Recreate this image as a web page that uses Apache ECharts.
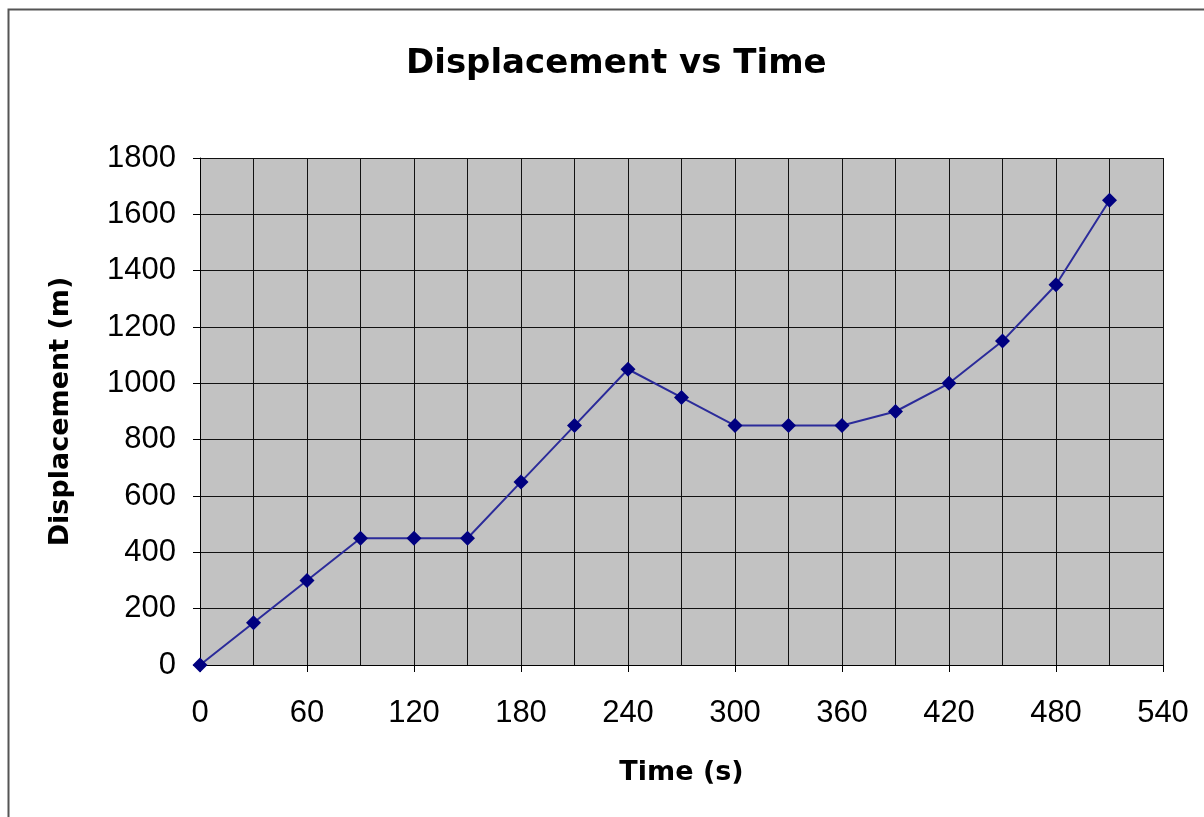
<!DOCTYPE html>
<html>
<head>
<meta charset="utf-8">
<script src="https://cdn.jsdelivr.net/npm/echarts@6/dist/echarts.min.js"></script>
<style>html,body{margin:0;padding:0;background:#fff}#c{width:1204px;height:817px}</style>
</head>
<body>
<div id="c"></div>
<script>
const times = [0, 30, 60, 90, 120, 150, 180, 210, 240, 270, 300, 330, 360, 390, 420, 450, 480, 510];
const displacement = [0, 150, 300, 450, 450, 450, 650, 850, 1050, 950, 850, 850, 850, 900, 1000, 1150, 1350, 1650];
const titleText = 'Displacement vs Time';
const xName = 'Time (s)';
const yName = 'Displacement (m)';

const chart = echarts.init(document.getElementById('c'), null, {renderer: 'canvas'});
const font = 'Liberation Sans, Arial, sans-serif';
const boldFont = 'DejaVu Sans, Verdana, sans-serif';
chart.setOption({
  backgroundColor: '#ffffff',
  animation: false,
  graphic: [{
    type: 'polyline', silent: true,
    shape: {points: [[8.5, 830], [8.5, 9.5], [1220, 9.5]]},
    style: {stroke: '#555', lineWidth: 2, fill: null}
  }],
  title: {
    text: titleText, left: 401, top: 42,
    textStyle: {fontFamily: boldFont, fontSize: 34, fontWeight: 'bold', color: '#000'}
  },
  grid: {left: 200, top: 158, right: 41, bottom: 152, backgroundColor: '#c2c2c2', show: true, borderWidth: 0},
  xAxis: {
    type: 'value', min: 0, max: 540, interval: 60,
    name: xName, nameLocation: 'middle', nameGap: 94,
    nameTextStyle: {fontFamily: boldFont, fontSize: 27, fontWeight: 'bold', color: '#000'},
    axisLine: {show: true, lineStyle: {color: '#000', width: 1}},
    axisTick: {show: true, length: 7, inside: false, lineStyle: {color: '#000'}},
    axisLabel: {fontFamily: font, fontSize: 31, color: '#000', margin: 33, formatter: v => String(v)},
    splitLine: {show: true, lineStyle: {color: '#111', width: 1}},
    minorTick: {show: false, splitNumber: 2},
    minorSplitLine: {show: true, lineStyle: {color: '#111', width: 1}}
  },
  yAxis: {
    type: 'value', min: 0, max: 1800, interval: 200,
    name: yName, nameLocation: 'middle', nameGap: 126, nameRotate: 90,
    nameTextStyle: {fontFamily: boldFont, fontSize: 27, fontWeight: 'bold', color: '#000'},
    axisLine: {show: true, lineStyle: {color: '#000', width: 1}},
    axisTick: {show: true, length: 7, inside: false, lineStyle: {color: '#000'}},
    axisLabel: {fontFamily: font, fontSize: 31, color: '#000', margin: 24, formatter: v => String(v)},
    splitLine: {show: true, lineStyle: {color: '#111', width: 1}}
  },
  series: [{
    type: 'line',
    data: times.map((t, i) => [t, displacement[i]]),
    symbol: 'diamond', symbolSize: 15,
    lineStyle: {color: '#2b2b9a', width: 2},
    itemStyle: {color: '#000080', borderWidth: 0}
  }]
});
</script>
</body>
</html>
